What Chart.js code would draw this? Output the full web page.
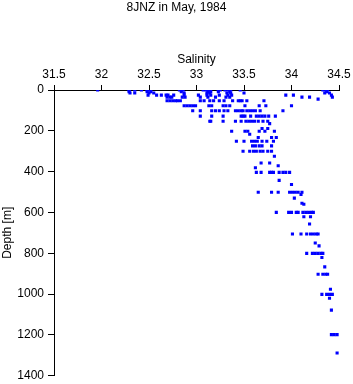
<!DOCTYPE html>
<html>
<head>
<meta charset="utf-8">
<script src="https://cdn.jsdelivr.net/npm/chart.js@4"></script>
<style>
  body { margin: 0; background: #fff; }
</style>
</head>
<body>
<canvas id="chart" width="353" height="384"></canvas>
<script>
// Station 8JNZ, May 1984 - salinity vs depth
const depth = [
    0, 0, 0, 0, 0, 0, 0, 0, 0, 0, 0, 0, 0, 0, 0, 0, 0, 0, 0, 0, 0,
    8, 8, 8, 8, 8, 8, 8, 8, 8,
    15, 15, 15, 15, 15, 15, 15, 15, 15, 15, 15, 15,
    25, 25, 25, 25, 25, 25, 25, 25, 25, 25, 25, 25, 25, 25, 25, 25,
    35, 35, 35, 35, 35, 35, 35, 35, 35, 35, 35, 35, 45, 35,
    53, 53, 53, 53, 53, 53, 53, 53, 53, 53, 53, 53, 53, 53, 53, 53, 53, 53,
    77, 77, 77, 77, 77, 77, 77, 77, 77, 77, 77, 77, 77, 77,
    102, 102, 102, 102, 102, 102, 102, 102, 102, 102, 102, 102, 102, 102, 102, 102, 102,
    128, 128, 128, 128, 128, 128, 128, 128, 128, 128, 128, 128, 128,
    153, 153, 153, 153, 153, 153, 153, 153, 153, 153, 153, 153,
    165, 189, 189,
    202, 202, 202, 202, 202, 202, 217,
    233, 233, 233,
    251, 251, 251, 251, 251, 251, 251, 251,
    274, 274, 274, 274, 274,
    300, 300, 300, 300, 300, 300, 300, 300,
    325, 358, 358, 371, 381,
    404, 404, 404, 404, 404, 404, 404, 404, 404,
    443, 463,
    501, 501, 501, 501, 501, 501, 501, 501,
    512, 530, 555, 560,
    600, 600, 600, 600, 600, 600, 600, 600, 600, 600,
    621, 621, 657,
    706, 706, 706, 706, 706, 706, 706,
    750, 764,
    801, 801, 801, 801, 801, 801,
    821, 867,
    903, 903, 903, 903,
    977,
    1002, 1002, 1002, 1002,
    1021, 1079,
    1199, 1199, 1199,
    1289
];
const salinity = [
    31.96, 32.29, 32.35, 32.42, 32.48, 32.50, 32.82, 32.84, 32.86, 33.07, 33.10, 33.13, 33.23, 33.25, 33.30, 33.33, 33.36, 33.46, 34.33, 34.36, 34.38,
    32.29, 32.48, 32.52, 32.84, 33.12, 33.15, 33.23, 33.35, 34.37,
    32.30, 32.35, 32.50, 32.55, 32.87, 33.11, 33.14, 33.32, 33.36, 33.50, 34.40, 34.35,
    32.49, 32.58, 32.63, 32.68, 32.70, 32.76, 32.87, 33.02, 33.11, 33.15, 33.24, 33.33, 33.37, 33.94, 34.02, 34.42,
    32.69, 32.72, 32.74, 32.85, 32.88, 33.04, 33.12, 33.20, 33.31, 33.35, 34.11, 34.19, 34.28, 34.43,
    32.69, 32.72, 32.75, 32.78, 32.80, 32.83, 33.04, 33.08, 33.14, 33.18, 33.24, 33.29, 33.38, 33.44, 33.46, 33.48, 33.53, 33.71,
    32.87, 32.90, 32.93, 32.96, 32.99, 33.13, 33.16, 33.28, 33.31, 33.35, 33.51, 33.66, 33.73, 34.00,
    32.96, 33.04, 33.16, 33.20, 33.24, 33.29, 33.33, 33.41, 33.44, 33.47, 33.49, 33.53, 33.56, 33.59, 33.62, 33.67, 33.91,
    33.04, 33.16, 33.28, 33.47, 33.49, 33.51, 33.57, 33.63, 33.66, 33.69, 33.72, 33.76, 33.83,
    33.14, 33.15, 33.28, 33.41, 33.47, 33.52, 33.55, 33.58, 33.61, 33.65, 33.70, 33.75,
    33.77, 33.69, 33.75,
    33.37, 33.51, 33.54, 33.66, 33.72, 33.82, 33.56,
    33.65, 33.79, 33.84,
    33.42, 33.50, 33.58, 33.61, 33.64, 33.69, 33.74, 33.81,
    33.59, 33.62, 33.66, 33.69, 33.79,
    33.49, 33.56, 33.60, 33.63, 33.67, 33.70, 33.75, 33.79,
    33.82, 33.68, 33.77, 33.86, 33.62,
    33.63, 33.68, 33.77, 33.79, 33.81, 33.87, 33.91, 33.94, 33.98,
    33.87, 34.00,
    33.65, 33.79, 33.86, 33.98, 34.01, 34.04, 34.07, 34.11,
    34.10, 34.03, 34.11, 34.13,
    33.84, 33.97, 34.00, 34.05, 34.07, 34.12, 34.15, 34.18, 34.21, 34.23,
    34.13, 34.20, 34.19,
    34.01, 34.10, 34.16, 34.20, 34.23, 34.26, 34.28,
    34.25, 34.29,
    34.16, 34.22, 34.25, 34.28, 34.31, 34.33,
    34.32, 34.35,
    34.28, 34.33, 34.36, 34.38,
    34.41,
    34.32, 34.37, 34.40, 34.43,
    34.40, 34.42,
    34.42, 34.45, 34.48,
    34.48
];
const salinityTicks = [31.5, 32, 32.5, 33, 33.5, 34, 34.5];
const depthTicks = [0, 200, 400, 600, 800, 1000, 1200, 1400];
const chartTitle = '8JNZ in May, 1984';

const points = salinity.map((s, i) => ({ x: s, y: depth[i] }));
const font = { family: 'Arial, "Liberation Sans", sans-serif', size: 12 };

// title centred on the whole page, not on the padded chart box
const pageTitle = {
    id: 'pageTitle',
    afterDraw(chart) {
        const c = chart.ctx;
        c.save();
        c.font = '12px ' + font.family;
        c.fillStyle = '#000';
        c.textAlign = 'center';
        c.textBaseline = 'middle';
        c.fillText(chartTitle, chart.width / 2, 8);
        c.restore();
    }
};

const ctx = document.getElementById('chart').getContext('2d');
new Chart(ctx, {
    type: 'scatter',
    data: {
        datasets: [{
            data: points,
            pointStyle: 'rect',
            pointRadius: 2.2,
            pointBorderWidth: 0,
            backgroundColor: '#0000ff',
            borderColor: '#0000ff'
        }]
    },
    plugins: [pageTitle],
    options: {
        responsive: false,
        animation: false,
        events: [],
        layout: { padding: { left: 0, right: 14, top: 15.6, bottom: 8.4 } },
        plugins: {
            legend: { display: false },
            tooltip: { enabled: false },
            title: { display: false }
        },
        scales: {
            x: {
                type: 'linear',
                position: 'top',
                min: 31.5,
                max: 34.5,
                afterBuildTicks: s => { s.ticks = salinityTicks.map(v => ({ value: v })); },
                afterFit: s => { s.height = 74.4; s.paddingLeft = 0; s.paddingRight = 0; },
                title: { display: true, text: 'Salinity', color: '#000', font: font, padding: { top: 37, bottom: 0 } },
                ticks: { color: '#000', font: font, padding: 3, maxRotation: 0, callback: v => String(v) },
                grid: { drawOnChartArea: false, drawTicks: true, tickLength: 5, color: '#000', lineWidth: 1 },
                border: { display: true, color: '#000', width: 1 }
            },
            y: {
                type: 'linear',
                reverse: true,
                min: 0,
                max: 1400,
                afterBuildTicks: s => { s.ticks = depthTicks.map(v => ({ value: v })); },
                afterFit: s => { s.width = 54; s.paddingTop = 0; s.paddingBottom = 0; },
                title: { display: true, text: 'Depth [m]', color: '#000', font: font, padding: { top: 0, bottom: 0 } },
                ticks: { color: '#000', font: font, padding: 4, callback: v => String(v) },
                grid: { drawOnChartArea: false, drawTicks: true, tickLength: 6, color: '#000', lineWidth: 1 },
                border: { display: true, color: '#000', width: 1 }
            }
        }
    }
});
</script>
</body>
</html>
